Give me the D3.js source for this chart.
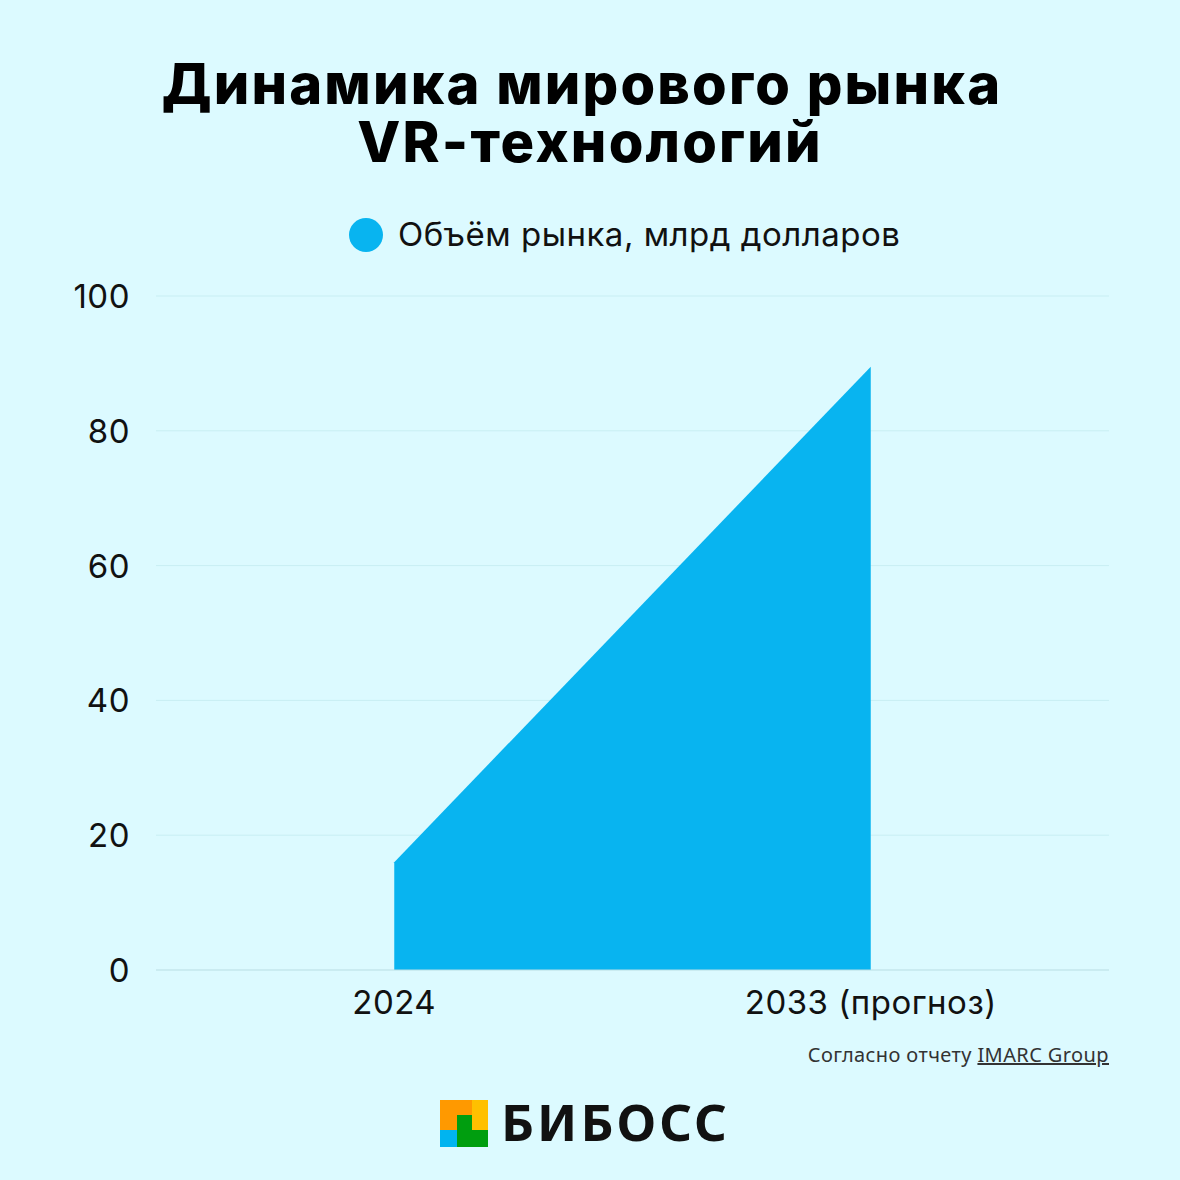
<!DOCTYPE html>
<html>
<head>
<meta charset="utf-8">
<script src="https://cdn.jsdelivr.net/npm/d3@7"></script>
<style>
  body { margin: 0; background: #dcfaff; }
  svg { display: block; }
</style>
</head>
<body>
<svg id="chart" width="1180" height="1180"></svg>
<script>
// data
var years = ['2024', '2033 (прогноз)'];
var marketSize = [16.0, 89.5];
var yTicks = [0, 20, 40, 60, 80, 100];

var svg = d3.select('#chart');
var W = 1180, H = 1180;
var margin = { left: 156, right: 71, top: 296, bottom: 210 };
var font = 'Inter, "Noto Sans", sans-serif';

svg.append('rect').attr('width', W).attr('height', H).attr('fill', '#dcfaff');

// title
svg.append('text')
    .attr('x', 582).attr('y', 104)
    .attr('text-anchor', 'middle')
    .style('font-family', font)
    .style('font-weight', 800)
    .style('font-size', '56px')
    .style('letter-spacing', '2.2px')
    .attr('fill', '#000')
    .text('Динамика мирового рынка');
svg.append('text')
    .attr('x', 590).attr('y', 162)
    .attr('text-anchor', 'middle')
    .style('font-family', font)
    .style('font-weight', 800)
    .style('font-size', '56px')
    .style('letter-spacing', '2.2px')
    .attr('fill', '#000')
    .text('VR-технологий');

// legend
svg.append('circle').attr('cx', 366).attr('cy', 235).attr('r', 17).attr('fill', '#08b4f0');
svg.append('text')
    .attr('x', 398).attr('y', 246)
    .style('font-family', font)
    .style('font-size', '33px')
    .style('letter-spacing', '0.5px')
    .attr('fill', '#111')
    .text('Объём рынка, млрд долларов');

var x = d3.scalePoint()
    .domain(years)
    .range([margin.left, W - margin.right])
    .padding(0.5);

var y = d3.scaleLinear()
    .domain([0, 100])
    .range([H - margin.bottom, margin.top]);

// grid
svg.append('g')
    .selectAll('line')
    .data(yTicks.slice(1))
    .join('line')
    .attr('x1', margin.left).attr('x2', W - margin.right)
    .attr('y1', function(d) { return y(d); })
    .attr('y2', function(d) { return y(d); })
    .attr('stroke', '#c8eef3')
    .attr('stroke-width', 1);

// area
var pts = years.map(function(d, i) { return { k: d, v: marketSize[i] }; });
var area = d3.area()
    .x(function(d) { return x(d.k); })
    .y0(y(0))
    .y1(function(d) { return y(d.v); });

svg.append('path')
    .datum(pts)
    .attr('d', area)
    .attr('fill', '#08b4f0');

// baseline
svg.append('line')
    .attr('x1', margin.left).attr('x2', W - margin.right)
    .attr('y1', y(0)).attr('y2', y(0))
    .attr('stroke', '#b8dde3')
    .attr('stroke-width', 1);

// y axis labels
svg.append('g')
    .selectAll('text')
    .data(yTicks)
    .join('text')
    .attr('x', 130)
    .attr('y', function(d) { return y(d) + 12; })
    .attr('text-anchor', 'end')
    .style('font-family', font)
    .style('font-size', '33px')
    .style('letter-spacing', '0.5px')
    .attr('fill', '#111')
    .text(function(d) { return d; });

// x axis labels
svg.append('g')
    .selectAll('text')
    .data(years)
    .join('text')
    .attr('x', function(d) { return x(d); })
    .attr('y', 1014)
    .attr('text-anchor', 'middle')
    .style('font-family', font)
    .style('font-size', '33px')
    .style('letter-spacing', '0.5px')
    .attr('fill', '#111')
    .text(function(d) { return d; });

// source
var src = svg.append('text')
    .attr('x', 1109).attr('y', 1062)
    .attr('text-anchor', 'end')
    .style('font-family', '"Noto Sans", sans-serif')
    .style('font-size', '20px')
    .style('letter-spacing', '0.4px')
    .attr('fill', '#333');
src.append('tspan').text('Согласно отчету ');
src.append('tspan').attr('text-decoration', 'underline').text('IMARC Group');

// logo
var logo = svg.append('g');
logo.append('rect').attr('x', 440).attr('y', 1100).attr('width', 32).attr('height', 30).attr('fill', '#ff9900');
logo.append('rect').attr('x', 472).attr('y', 1100).attr('width', 16).attr('height', 30).attr('fill', '#ffc000');
logo.append('rect').attr('x', 440).attr('y', 1130).attr('width', 17).attr('height', 17).attr('fill', '#00b4f0');
logo.append('path').attr('d', 'M457,1115H472V1130H488V1147H457Z').attr('fill', '#009e0f');
svg.append('text')
    .attr('x', 501).attr('y', 1141)
    .style('font-family', '"Noto Sans", sans-serif')
    .style('font-weight', 700)
    .style('font-size', '51px')
    .style('letter-spacing', '3px')
    .attr('fill', '#111')
    .text('БИБОСС');
</script>
</body>
</html>
